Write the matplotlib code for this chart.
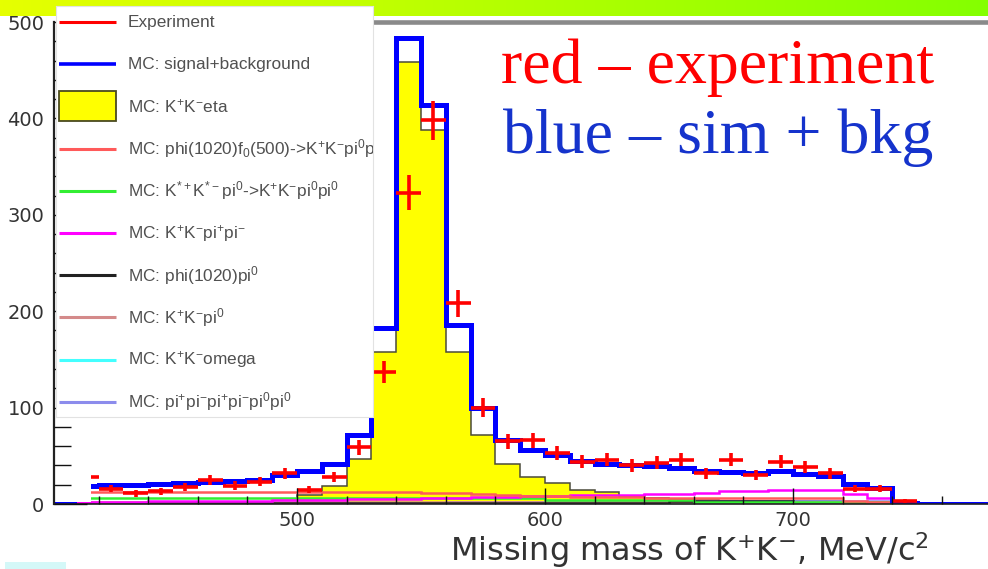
import numpy as np
import matplotlib
matplotlib.use('Agg')
import matplotlib.pyplot as plt
from matplotlib.patches import Rectangle
from matplotlib.lines import Line2D
from matplotlib.ticker import MultipleLocator
from matplotlib.colors import LinearSegmentedColormap

plt.rcParams['mathtext.default'] = 'regular'
plt.rcParams['font.family'] = ['DejaVu Sans']

# ---------------- data: 10 MeV bins, lower edges 400 ... 770 ----------------
bin_low = 400
bin_width = 10

mc_total = [0, 19, 20, 20, 21, 22, 23, 24, 25, 30,
            34, 42, 72, 183, 483, 414, 186, 100, 66, 56,
            51, 45, 42, 40, 39, 37, 34, 33, 32, 34,
            31, 29, 21, 17, 1, 0, 0, 0]

experiment = [np.nan, 28, 16, 11, 13, 18, 25, 19, 23, 32,
              15, 28, 59, 137, 323, 398, 208, 100, 65, 66,
              53, 44, 46, 40, 43, 46, 32, 46, 30, 44,
              38, 32, 16, 16, 3, np.nan, np.nan, np.nan]

kk_eta = [0, 0, 0, 0, 0, 0, 0, 0, 0, 0,
          9, 19, 47, 158, 458, 388, 158, 72, 42, 28,
          22, 15, 12, 8, 6, 5, 4, 3, 3, 3,
          3, 3, 2, 1, 0, 0, 0, 0]

phi_f0 = [0] + [12] * 14 + [11, 11, 10, 9, 8, 8] + [7, 7, 7, 6, 6, 6, 6, 6, 6, 6, 6] + [3, 2] + [0] * 4
kstar_kstar = [0] + [6] * 19 + [4] * 6 + [2] * 8 + [0] * 4
kk_pipi = [0, 2, 2, 2, 3, 3, 3, 3, 3, 4,
           4, 4, 5, 5, 5, 6, 6, 7, 7, 8,
           8, 9, 9, 9, 10, 10, 11, 14, 14, 15,
           15, 15, 10, 6, 1, 0, 0, 0]
phi_pi0 = [0] + [1] * 24 + [3] * 5 + [1] * 5 + [0] * 3
kk_pi0 = [0] + [2] * 33 + [1] + [0] * 3
kk_omega = [0] + [1] * 33 + [0] * 4
six_pi = [0] + [1] * 15 + [2] * 8 + [3] * 10 + [1] + [0] * 3

x_ticks = [500, 600, 700]
y_ticks = [0, 100, 200, 300, 400, 500]

legend_labels = [
    "Experiment",
    "MC: signal+background",
    "MC: K$^{+}$K$^{-}$eta",
    "MC: phi(1020)f$_{0}$(500)->K$^{+}$K$^{-}$pi$^{0}$pi$^{0}$",
    "MC: K$^{*+}$K$^{*-}$pi$^{0}$->K$^{+}$K$^{-}$pi$^{0}$pi$^{0}$",
    "MC: K$^{+}$K$^{-}$pi$^{+}$pi$^{-}$",
    "MC: phi(1020)pi$^{0}$",
    "MC: K$^{+}$K$^{-}$pi$^{0}$",
    "MC: K$^{+}$K$^{-}$omega",
    "MC: pi$^{+}$pi$^{-}$pi$^{+}$pi$^{-}$pi$^{0}$pi$^{0}$",
]
legend_colors = ['#ff0000', '#0000ff', '#ffff00', '#ff5a5a', '#33ee33',
                 '#ff00ff', '#222222', '#d48a8a', '#44ffff', '#8c8cec']

# ---------------- figure ----------------
W, H = 988, 569
fig = plt.figure(figsize=(W / 100, H / 100), dpi=100)
fig.patch.set_facecolor('white')


def fx(px):
    return px / W


def fy(py):
    return 1 - py / H


# header band (slide decoration)
hax = fig.add_axes([0, fy(16.5), 1, 16.5 / H], zorder=1)
grad = np.linspace(0, 1, 512)[None, :]
hax.imshow(grad, aspect='auto', extent=[0, 1, 0, 1],
           cmap=LinearSegmentedColormap.from_list('hdr', ['#e6ff00', '#84ff00']))
hax.set_axis_off()

# main axes
ax = fig.add_axes([fx(54), fy(504), fx(988) - fx(54), fy(22) - fy(504)], zorder=2)
edges = bin_low + bin_width * np.arange(len(mc_total) + 1)
centers = edges[:-1] + bin_width / 2

ax.stairs(kk_eta, edges, fill=True, color='#ffff00', zorder=1.0)
ax.stairs(kk_eta, edges, color='#4a4a3a', lw=1.1, zorder=1.1)

for vals, col in [(six_pi, legend_colors[9]), (kk_omega, legend_colors[8]),
                  (kk_pi0, legend_colors[7]), (phi_pi0, legend_colors[6]),
                  (kstar_kstar, legend_colors[4]), (kk_pipi, legend_colors[5]),
                  (phi_f0, legend_colors[3])]:
    ax.stairs(vals, edges, color=col, lw=1.8, zorder=1.5)

ax.stairs(mc_total, edges, color='#0000ff', lw=3.6, zorder=1.8)

exp = np.array(experiment, dtype=float)
ok = ~np.isnan(exp)
ax.errorbar(centers[ok], exp[ok], xerr=bin_width / 2, yerr=np.sqrt(exp[ok]),
            fmt='none', ecolor='#ff0000', elinewidth=2.6, capsize=0, zorder=2.0)

# white cover at the lower left (pasted legend background)
ax.add_patch(Rectangle((0, 0.005), (91 - 54) / 934, 0.235, transform=ax.transAxes,
                       facecolor='white', edgecolor='none', zorder=2.3))

ax.set_xlim(402.0, 778.6)
ax.set_ylim(0, 500)
ax.set_axisbelow(False)
ax.spines['top'].set_visible(False)
ax.spines['right'].set_visible(False)
ax.spines['left'].set_linewidth(1.6)
ax.spines['left'].set_color('#222222')
ax.spines['bottom'].set_linewidth(1.2)
ax.spines['bottom'].set_color('#222222')

ax.set_xticks(x_ticks)
ax.set_yticks(y_ticks)
ax.xaxis.set_minor_locator(MultipleLocator(20))
ax.yaxis.set_minor_locator(MultipleLocator(20))
ax.tick_params(axis='both', which='both', direction='in', color='#111111', width=1.0,
               labelsize=14, labelcolor='#333333')
ax.tick_params(axis='x', which='major', length=11.5, pad=5)
ax.tick_params(axis='x', which='minor', length=5.8)
ax.tick_params(axis='y', which='major', length=24, pad=7)
ax.tick_params(axis='y', which='minor', length=12)

ax.set_xlabel('Missing mass of K$^{+}$K$^{-}$, MeV/c$^{2}$', fontsize=23,
              color='#333333', ha='left', va='baseline')
ax.xaxis.set_label_coords((450 - 54) / 934, (504 - 561) / 482)

# slide rule
fig.add_artist(Line2D([fx(373), 1], [fy(21.5), fy(21.5)], lw=3.3, color='#8a8a8a', zorder=3))

# legend box
lax = fig.add_axes([fx(56), fy(417), fx(373) - fx(56), fy(6) - fy(417)], zorder=5)
lax.set_xlim(0, 317)
lax.set_ylim(411, 0)
lax.set_xticks([])
lax.set_yticks([])
lax.set_facecolor('white')
for s in lax.spines.values():
    s.set_color('#e2e2e2')
    s.set_linewidth(0.8)

for i, (lab, col) in enumerate(zip(legend_labels, legend_colors)):
    yy = 16 + 42.2 * i
    if i == 2:
        lax.add_patch(Rectangle((3, yy - 15), 57, 30, facecolor=col,
                                edgecolor='#4a4a20', lw=1.3))
    else:
        lax.plot([3, 60], [yy, yy], color=col, lw=2.6 if i == 1 else 2.2,
                 solid_capstyle='butt')
    lax.text(72, yy, lab, fontsize=12.4, family='Liberation Sans', color='#505050',
             va='center', ha='left', clip_on=True)

# slide annotations
fig.text(fx(501), fy(83), 'red – experiment', fontsize=46, color='#ff0000',
         family='Liberation Serif', va='baseline', ha='left', zorder=6)
fig.text(fx(503), fy(153), 'blue – sim + bkg', fontsize=46, color='#1533cc',
         family='Liberation Serif', va='baseline', ha='left', zorder=6)

# small cyan slide mark bottom-left
fig.add_artist(Rectangle((fx(5), fy(569)), fx(66) - fx(5), 7 / H, transform=fig.transFigure,
                         facecolor='#d4f8f8', edgecolor='none', zorder=3))

fig.savefig('out.png', dpi=100)
